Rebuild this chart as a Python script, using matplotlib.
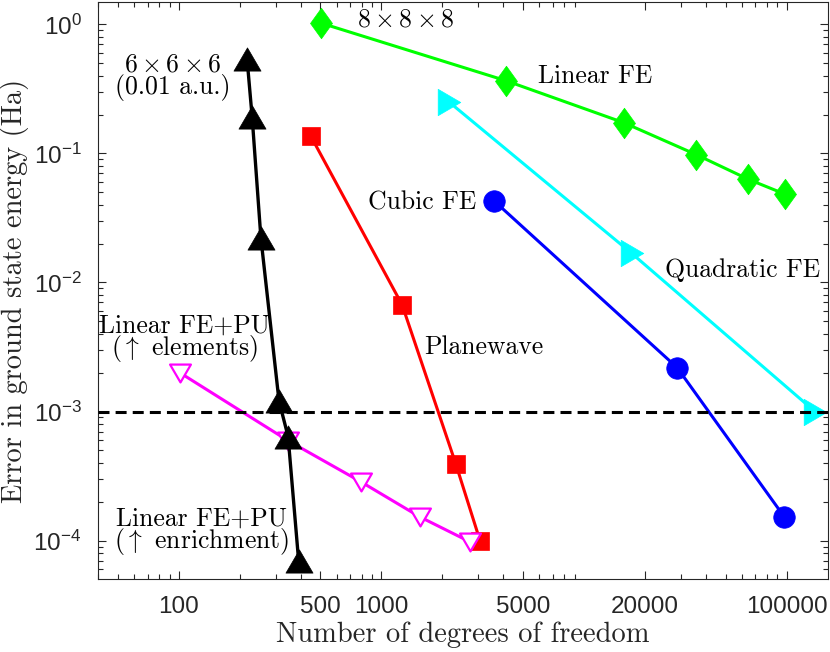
import numpy as np
import matplotlib
matplotlib.use("Agg")
import matplotlib.pyplot as plt
from matplotlib.ticker import FixedLocator, NullFormatter
from matplotlib.path import Path

plt.rcParams['font.family'] = ['Liberation Sans', 'DejaVu Sans']
plt.rcParams['mathtext.fontset'] = 'cm'

# ---------------- data ----------------
black_x = [217, 230, 254, 312, 346, 390]
black_y = [0.54, 0.19, 0.0221, 1.21e-3, 6.4e-4, 6.97e-5]

green_x = [505, 4110, 15700, 35700, 64700, 98600]
green_y = [1.02, 0.366, 0.173, 0.098, 0.063, 0.0482]

cyan_x = [2150, 17200, 138000]
cyan_y = [0.251, 0.0168, 1.0e-3]

blue_x = [3600, 28800, 97300]
blue_y = [0.0428, 2.19e-3, 1.53e-4]

red_x = [448, 1265, 2330, 3065]
red_y = [0.136, 6.7e-3, 3.91e-4, 1.0e-4]

mag_x = [101.6, 346, 791, 1545, 2730]
mag_y = [1.99e-3, 5.95e-4, 2.86e-4, 1.53e-4, 9.8e-5]

threshold = 1e-3

xticks = [100, 500, 1000, 5000, 20000, 100000]
xticklabels = ['100', '500', '1000', '5000', '20000', '100000']
yticks = [1e-4, 1e-3, 1e-2, 1e-1, 1e0]
yticklabels = [r'$\mathregular{10^{-4}}$', r'$\mathregular{10^{-3}}$',
               r'$\mathregular{10^{-2}}$', r'$\mathregular{10^{-1}}$',
               r'$\mathregular{10^{0}}$']

# ---------------- figure ----------------
fig = plt.figure(figsize=(8.3, 6.52), dpi=100)
ax = fig.add_axes([0.1184, 0.112, 0.8792, 0.885])
ax.set_xscale('log')
ax.set_yscale('log')
ax.set_xlim(40, 160000)
ax.set_ylim(5.05e-5, 1.49)

def closed(verts):
    v = list(verts) + [verts[0]]
    codes = [Path.MOVETO] + [Path.LINETO] * (len(verts) - 1) + [Path.CLOSEPOLY]
    return Path(v, codes)

tri_up = closed([(0, 0.857), (-1, -0.857), (1, -0.857)])
tri_dn = closed([(0, -0.857), (-1, 0.857), (1, 0.857)])
tri_rt = closed([(0.857, 0), (-0.857, 1), (-0.857, -1)])
diamond = closed([(0, 1), (0.72, 0), (0, -1), (-0.72, 0)])

lw = 2.2
ax.plot(green_x, green_y, color='#00ff00', lw=lw, marker=diamond, ms=22,
        mec='#00ff00', mfc='#00ff00', mew=0.5, zorder=3)
ax.plot(cyan_x, cyan_y, color='#00ffff', lw=lw, marker=tri_rt, ms=19,
        mec='#00ffff', mfc='#00ffff', mew=0.5, zorder=3)
ax.plot(blue_x, blue_y, color='#0000ff', lw=lw, marker='o', ms=15.5,
        mec='#0000ff', mfc='#0000ff', mew=0.5, zorder=3)
ax.plot(red_x, red_y, color='#ff0000', lw=lw, marker='s', ms=13.5,
        mec='#ff0000', mfc='#ff0000', mew=0.5, zorder=3)
ax.plot(mag_x, mag_y, color='#ff00ff', lw=lw, marker=tri_dn, ms=15,
        mec='#ff00ff', mfc='white', mew=1.6, zorder=4)
ax.axhline(threshold, color='black', lw=lw, ls=(0, (3.6, 2.0)), zorder=5)
ax.plot(black_x, black_y, color='black', lw=2.4, marker=tri_up, ms=19.5,
        mec='black', mfc='black', mew=0.5, zorder=6)

# ---------------- ticks ----------------
ax.xaxis.set_major_locator(FixedLocator(xticks))
ax.set_xticklabels(xticklabels)
xminor = [k * 10.0**n for n in range(1, 6) for k in range(2, 10)]
xminor = [v for v in xminor if 40 <= v <= 160000 and v not in xticks]
ax.xaxis.set_minor_locator(FixedLocator(xminor))
ax.xaxis.set_minor_formatter(NullFormatter())

ax.yaxis.set_major_locator(FixedLocator(yticks))
ax.set_yticklabels(yticklabels)
yminor = [k * 10.0**n for n in range(-5, 1) for k in range(2, 10)]
yminor = [v for v in yminor if 5.05e-5 <= v <= 1.49]
ax.yaxis.set_minor_locator(FixedLocator(yminor))
ax.yaxis.set_minor_formatter(NullFormatter())

gray = '#262626'
ax.tick_params(which='both', direction='in', top=True, right=True, colors=gray,
               width=0.8)
ax.tick_params(which='major', length=6)
ax.tick_params(which='minor', length=3.5)
ax.tick_params(axis='x', which='major', labelsize=17.5, pad=12)
ax.tick_params(axis='y', which='major', labelsize=17.5, pad=12)
for s in ax.spines.values():
    s.set_color(gray)
    s.set_linewidth(0.8)

serif = 'cmr10'
ax.set_xlabel('Number of degrees of freedom', family=serif, fontsize=20.5,
              color=gray, labelpad=3)
ax.set_ylabel('Error in ground state energy (Ha)', family=serif, fontsize=20.5,
              color=gray, labelpad=3)

# ---------------- annotations ----------------
fs = 18.5
def txt(x, y, s, **kw):
    ax.text(x, y, s, family=serif, fontsize=fs, ha='center', va='center',
            zorder=7, **kw)

txt(1318, 1.09, r'$8\times8\times8$')
txt(93.5, 0.39, r'$6\times6\times6$' + '\n(0.01 a.u.)',
    linespacing=0.85, multialignment='center')
txt(11300, 0.398, 'Linear FE')
txt(1591, 0.0418, 'Cubic FE')
txt(60900, 0.0125, 'Quadratic FE')
txt(3200, 3.17e-3, 'Planewave')
txt(106, 3.65e-3, 'Linear FE+PU\n(' + r'$\uparrow$' + ' elements)',
    linespacing=0.78, multialignment='center')
txt(129.5, 1.17e-4, 'Linear FE+PU\n(' + r'$\uparrow$' + ' enrichment)',
    linespacing=0.78, multialignment='center')

fig.savefig('out.png', dpi=100)
